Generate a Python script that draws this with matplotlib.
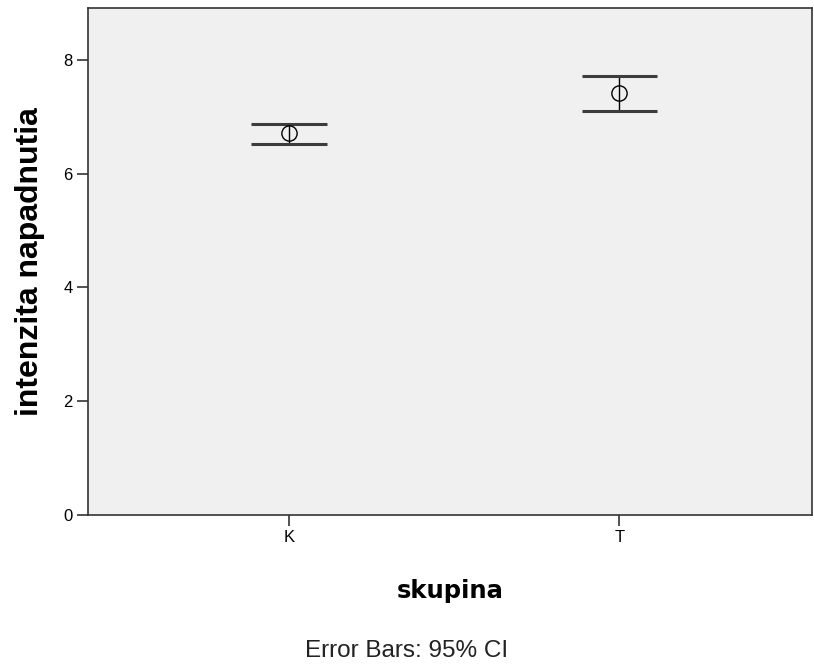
import numpy as np
import matplotlib.pyplot as plt

# group means with 95% CI bounds
groups = ['K', 'T']
means = [6.71, 7.41]
ciLow = [6.52, 7.10]
ciHigh = [6.87, 7.71]

xPos = np.arange(len(groups))
errLow = np.array(means) - np.array(ciLow)
errHigh = np.array(ciHigh) - np.array(means)

fig = plt.figure(figsize=(8.14, 6.66), dpi=100)
ax = fig.add_axes([0.108, 0.2267, 0.89, 0.7613])
ax.set_facecolor('#f0f0f0')

ax.errorbar(xPos, means, yerr=[errLow, errHigh], fmt='none', ecolor='black',
            elinewidth=1, capsize=0)
# caps in dark grey
for x, lo, hi in zip(xPos, ciLow, ciHigh):
    ax.hlines([lo, hi], x - 0.114, x + 0.114, colors='#3c3c3c', linewidth=2.2, zorder=3)
ax.plot(xPos, means, 'o', markersize=11, markerfacecolor='none',
        markeredgecolor='black', markeredgewidth=1, zorder=4)

ax.set_xlim(-0.609, 1.585)
ax.set_ylim(0, 8.91)
ax.set_xticks(xPos)
ax.set_xticklabels(groups, fontsize=12, family='Liberation Sans')
ax.set_yticks([0, 2, 4, 6, 8])
ax.set_yticklabels(['0', '2', '4', '6', '8'], fontsize=12, family='Liberation Sans')
ax.tick_params(direction='out', length=8, width=1.2, color='#333333', pad=3)
for s in ax.spines.values():
    s.set_linewidth(1.2)
    s.set_color('#333333')

ax.set_ylabel('intenzita napadnutia', fontsize=23, fontweight='bold',
              family='Liberation Sans', labelpad=13)
ax.set_xlabel('skupina', fontsize=17.5, fontweight='bold', family='DejaVu Sans', labelpad=24)
fig.text(0.499, 0.022, 'Error Bars: 95% CI', ha='center', va='center', fontsize=17.5,
         family='Liberation Sans', color='#222222')

fig.savefig('out.png', dpi=100)
